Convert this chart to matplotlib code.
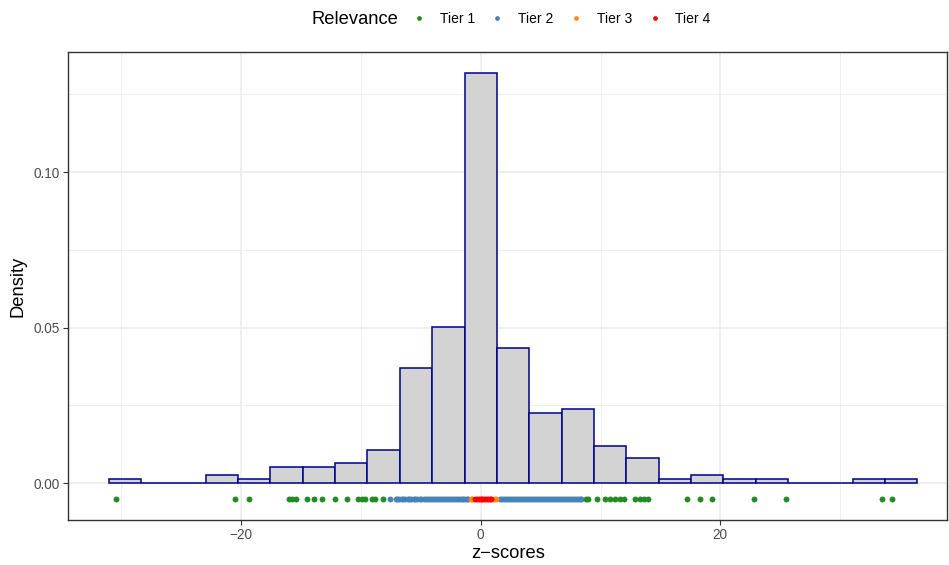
import numpy as np
import matplotlib
matplotlib.use("Agg")
import matplotlib.pyplot as plt
from matplotlib.lines import Line2D

plt.rcParams['font.family'] = ['Liberation Sans', 'DejaVu Sans']

# histogram: 25 bins of equal width, counts per bin
bin_start = -31.05
bin_width = 2.70
counts = [1, 0, 0, 2, 1, 4, 4, 5, 8, 28, 38, 100, 33, 17, 18, 9, 6, 1, 2, 1, 1, 0, 0, 1, 1]

# z-scores shown in the strip below the bars, by relevance tier
tier1 = [-30.47, -20.53, -19.37, -16.03, -15.73, -15.42, -14.5, -13.94, -13.27,
         -12.18, -11.18, -10.22, -9.93, -9.66, -9.10, -8.82, -8.16,
         8.79, 8.98, 9.68, 10.38, 10.79, 11.21, 11.63, 11.96, 12.88, 13.30,
         13.63, 13.99, 17.20, 18.31, 19.29, 22.84, 25.46, 33.47, 34.31]
tier2 = [-7.55, -7.1, -6.95, -6.8, -6.6, -6.45, -6.3, -6.1, -5.95, -5.8, -5.6,
         -5.45, -5.3, -5.1, -4.95, -4.75, -4.6, -4.4, -4.25, -4.1, -3.9, -3.75,
         -3.6, -3.4, -3.25, -3.1, -2.9, -2.75, -2.6, -2.4, -2.25, -2.1, -1.9,
         -1.75, -1.6, -1.45, -1.3, -1.15, -1.05,
         1.65, 1.8, 1.95, 2.1, 2.3, 2.45, 2.6, 2.8, 2.95, 3.1, 3.3, 3.45, 3.6,
         3.8, 3.95, 4.1, 4.3, 4.45, 4.6, 4.8, 4.95, 5.1, 5.3, 5.45, 5.6, 5.8,
         5.95, 6.1, 6.3, 6.45, 6.6, 6.8, 6.95, 7.1, 7.3, 7.45, 7.6, 7.8, 7.95,
         8.1, 8.25, 8.4]
tier3 = [-0.85, -0.7, 1.15, 1.3]
tier4 = [-0.45, -0.3, -0.15, 0.0, 0.15, 0.3, 0.45, 0.6, 0.75, 0.9]
strip_y = -0.005

tier_names = ['Tier 1', 'Tier 2', 'Tier 3', 'Tier 4']
tier_colors = ['#228B22', '#4682B4', '#FF8C00', '#FF0000']

counts = np.array(counts)
n_total = counts.sum()
density = counts / (n_total * bin_width)
left_edges = bin_start + bin_width * np.arange(len(counts))

fig = plt.figure(figsize=(9.49, 5.65), dpi=100)
ax = fig.add_axes([0.072, 0.080, 0.926, 0.828])

ax.bar(left_edges, density, width=bin_width, align='edge',
       color='#D3D3D3', edgecolor='#00008B', linewidth=1.1, zorder=2)

for vals, col in zip([tier2, tier1, tier3, tier4],
                     [tier_colors[1], tier_colors[0], tier_colors[2], tier_colors[3]]):
    ax.scatter(vals, np.full(len(vals), strip_y), s=18, color=col,
               linewidths=0, zorder=3)

ax.set_xlim(-34.42, 38.93)
ax.set_ylim(-0.0118, 0.1386)
ax.set_xticks([-20, 0, 20])
ax.set_xticks([-30, -10, 10, 30], minor=True)
ax.set_yticks([0.0, 0.05, 0.10])
ax.set_yticklabels(['0.00', '0.05', '0.10'])
ax.set_yticks([0.025, 0.075, 0.125], minor=True)

ax.grid(True, which='major', color='#EBEBEB', linewidth=1.1, zorder=0)
ax.grid(True, which='minor', color='#EBEBEB', linewidth=0.55, zorder=0)
ax.set_axisbelow(True)
for sp in ax.spines.values():
    sp.set_color('#333333')
    sp.set_linewidth(1.0)
ax.tick_params(which='major', length=3.5, width=0.8, color='#333333',
               labelcolor='#4D4D4D', labelsize=9.8, pad=2.5)
ax.tick_params(which='minor', length=0)

ax.set_xlabel('z\u2212scores', fontsize=13.2, labelpad=2)
ax.set_ylabel('Density', fontsize=13.2, labelpad=5)

# legend on top with title on the left
fig.text(0.3285, 0.966, 'Relevance', fontsize=13.2, va='center', ha='left')
handles = [Line2D([], [], marker='o', linestyle='', markersize=3.4,
                  markerfacecolor=c, markeredgewidth=0) for c in tier_colors]
fig.legend(handles, tier_names, loc='center left', bbox_to_anchor=(0.434, 0.966),
           ncol=4, frameon=False, fontsize=10, handlelength=1.0,
           handletextpad=1.0, columnspacing=1.12, borderaxespad=0, borderpad=0)

fig.savefig('out.png', dpi=100)
